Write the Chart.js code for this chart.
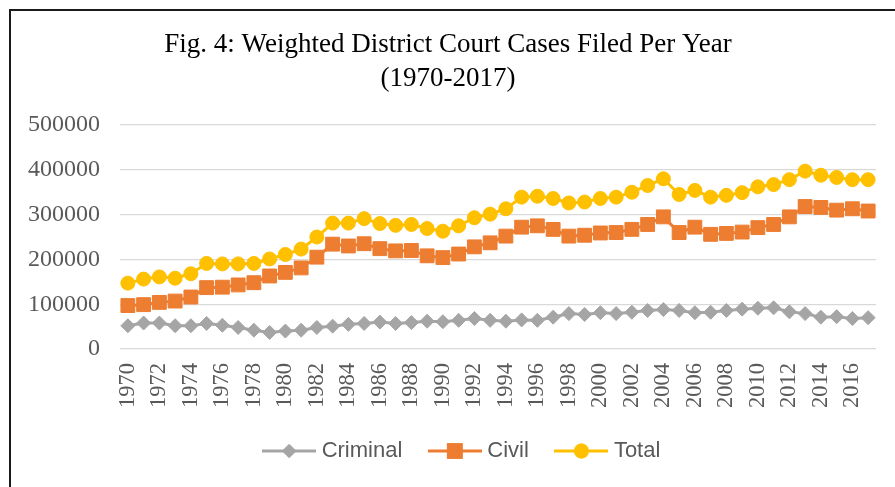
<!DOCTYPE html>
<html>
<head>
<meta charset="utf-8">
<script src="https://cdn.jsdelivr.net/npm/chart.js@4/dist/chart.umd.min.js"></script>
<style>
  html, body { margin: 0; padding: 0; background: #fff; overflow: hidden; }
  #wrap { position: absolute; left: 0; top: 0; width: 895px; height: 487px; }
  #frame { position: absolute; left: 9px; top: 9px; width: 920px; height: 520px; border: 2px solid #1a1a1a; box-sizing: border-box; }
</style>
</head>
<body>
<div id="frame"></div>
<div id="wrap"><canvas id="courtChart"></canvas></div>
<script>
// data
const years = [];
for (let y = 1970; y <= 2017; y++) years.push(String(y));

const criminal = [52000, 58000, 58000, 52000, 52000, 57000, 53000, 48000, 42000, 37000,
  40000, 42000, 48000, 51000, 55000, 57000, 60000, 57000, 59000, 62000,
  61000, 64000, 68000, 64000, 62000, 65000, 64000, 71000, 79000, 77000,
  81000, 79000, 82000, 86000, 88000, 86000, 81000, 82000, 86000, 89000,
  91000, 92000, 83000, 79000, 71000, 72000, 68000, 70000];

const civil = [97000, 99000, 104000, 107000, 116000, 137000, 138000, 143000, 148000, 163000,
  171000, 181000, 205000, 234000, 230000, 235000, 224000, 219000, 220000, 208000,
  204000, 212000, 228000, 237000, 252000, 272000, 275000, 267000, 252000, 254000,
  259000, 260000, 267000, 278000, 295000, 260000, 272000, 256000, 258000, 261000,
  271000, 278000, 295000, 318000, 316000, 310000, 313000, 308000];

const total = [147000, 156000, 161000, 158000, 168000, 191000, 190000, 190000, 191000, 201000,
  211000, 223000, 250000, 281000, 281000, 291000, 280000, 276000, 278000, 269000,
  263000, 275000, 293000, 301000, 313000, 339000, 341000, 336000, 326000, 328000,
  336000, 339000, 350000, 365000, 380000, 345000, 354000, 339000, 343000, 349000,
  362000, 367000, 378000, 397000, 388000, 383000, 378000, 378000];

const yTicks = [0, 100000, 200000, 300000, 400000, 500000];

const GREY = '#a5a5a5', ORANGE = '#ed7d31', GOLD = '#ffc000';

// legend icon: line with the marker in the middle (Excel style)
function makeIcon(color, shape, r) {
  const c = document.createElement('canvas');
  c.width = 54; c.height = 20;
  const g = c.getContext('2d');
  g.strokeStyle = color; g.fillStyle = color; g.lineWidth = 3;
  g.beginPath(); g.moveTo(0, 10); g.lineTo(54, 10); g.stroke();
  Chart.helpers.drawPoint(g, { pointStyle: shape, radius: r, borderWidth: 1, rotation: 0 }, 27, 10);
  g.fill(); g.stroke();
  return c;
}

// the legend in the figure sits a bit right of centre
const nudgeLegend = {
  id: 'nudgeLegend',
  afterLayout(chart) {
    chart.legend.left += 16;
    chart.legend.right += 16;
  },
};

const serif = '"Liberation Serif", "Times New Roman", serif';

new Chart(document.getElementById('courtChart'), {
  type: 'line',
  data: {
    labels: years,
    datasets: [
      { label: 'Criminal', data: criminal, borderColor: GREY, backgroundColor: GREY,
        pointStyle: 'rectRot', pointRadius: 7, pointBorderWidth: 1 },
      { label: 'Civil', data: civil, borderColor: ORANGE, backgroundColor: ORANGE,
        pointStyle: 'rect', pointRadius: 9.8, pointBorderWidth: 1 },
      { label: 'Total', data: total, borderColor: GOLD, backgroundColor: GOLD,
        pointStyle: 'circle', pointRadius: 7, pointBorderWidth: 1 },
    ],
  },
  options: {
    responsive: true,
    maintainAspectRatio: false,
    animation: false,
    elements: { line: { borderWidth: 3, tension: 0 } },
    layout: { padding: { left: 20, right: 19, top: 0, bottom: 18 } },
    scales: {
      x: {
        offset: true,
        grid: { display: false, drawTicks: false },
        border: { display: false },
        ticks: {
          autoSkip: false, minRotation: 90, maxRotation: 90, padding: 14,
          color: '#595959', font: { family: serif, size: 22.5 },
          callback: (v, i) => (i % 2 === 0 ? years[i] : ''),
        },
        afterFit: (axis) => { axis.height = 60; axis.paddingLeft = 0; axis.paddingRight = 0; },
      },
      y: {
        min: 0, max: 500000,
        afterBuildTicks: (axis) => { axis.ticks = yTicks.map((v) => ({ value: v })); },
        afterFit: (axis) => { axis.width = 100; },
        grid: { color: '#d9d9d9', lineWidth: 1.3, drawTicks: false },
        border: { display: false },
        ticks: { padding: 20, color: '#595959', font: { family: serif, size: 24 },
          callback: (v) => String(v) },
      },
    },
    plugins: {
      title: {
        display: true,
        text: ['Fig. 4: Weighted District Court Cases Filed Per Year', '(1970-2017)'],
        color: '#000',
        font: { family: serif, size: 27, weight: 'normal', lineHeight: 1.23 },
        padding: { top: 28.7, bottom: 29.9 },
      },
      legend: {
        position: 'bottom',
        maxHeight: 60,
        labels: {
          usePointStyle: true, pointStyleWidth: 43, padding: 31,
          color: '#595959', font: { family: '"Liberation Sans", Arial, sans-serif', size: 22 },
          generateLabels: (chart) => {
            const items = Chart.defaults.plugins.legend.labels.generateLabels(chart);
            const icons = [makeIcon(GREY, 'rectRot', 5), makeIcon(ORANGE, 'rect', 9), makeIcon(GOLD, 'circle', 6)];
            items.forEach((it, i) => { it.pointStyle = icons[i]; });
            return items;
          },
        },
      },
      tooltip: { enabled: false },
    },
  },
  plugins: [nudgeLegend],
});
</script>
</body>
</html>
